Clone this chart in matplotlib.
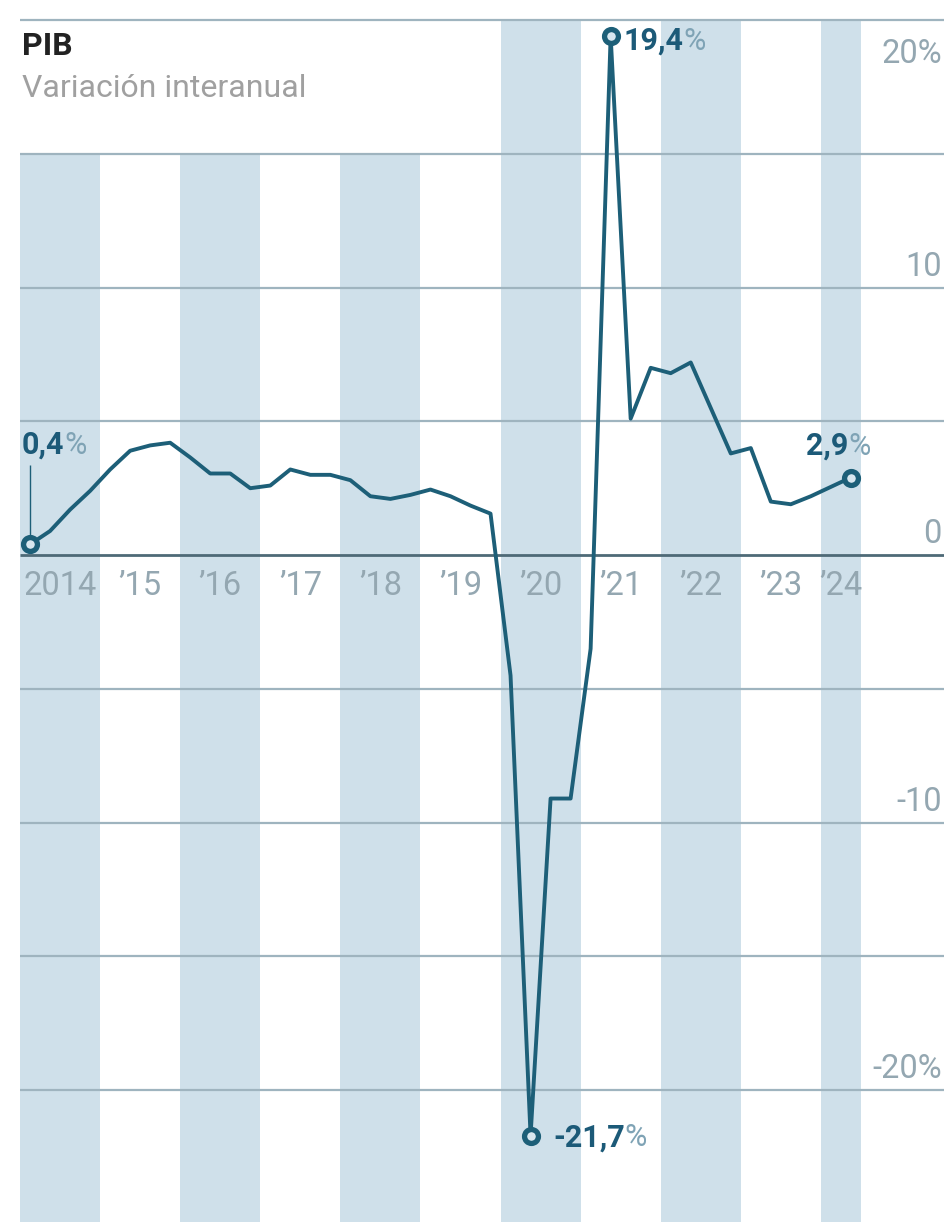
import numpy as np
import matplotlib.pyplot as plt

plt.rcParams['font.family'] = ['Roboto', 'DejaVu Sans']

# --- DATA: PIB, variación interanual (%), trimestral 2014T1 - 2024T2 ---
years = [2014, 2015, 2016, 2017, 2018, 2019, 2020, 2021, 2022, 2023, 2024]
year_labels = ["2014", "’15", "’16", "’17", "’18", "’19", "’20", "’21", "’22", "’23", "’24"]
gdp = [0.4, 0.9, 1.7, 2.4,
       3.2, 3.9, 4.1, 4.2,
       3.65, 3.05, 3.05, 2.5,
       2.6, 3.2, 3.0, 3.0,
       2.8, 2.2, 2.1, 2.25,
       2.45, 2.2, 1.85, 1.55,
       -4.5, -21.7, -9.1, -9.1,
       -3.5, 19.4, 5.1, 7.0,
       6.8, 7.2, 5.5, 3.8,
       4.0, 2.0, 1.9, 2.2,
       2.55, 2.9]
y_ticks = [20, 10, 0, -10, -20]
y_tick_labels = ["20%", "10", "0", "-10", "-20%"]
highlights = {0: "0,4", 25: "-21,7", 29: "19,4", 41: "2,9"}

# --- COLOURS ---
band_c = "#cfe0ea"
grid_c = "#9fb4bf"
zero_c = "#4e6a77"
line_c = "#1d5f78"
num_c = "#1c5a78"
pct_c = "#7fa3b5"
tick_c = "#94a7b1"

x = years[0] + np.arange(len(gdp)) / 4 + 0.125
x_end = years[0] + len(gdp) / 4

fig = plt.figure(figsize=(9.45, 12.22), dpi=100)
ax = fig.add_axes([0, 0, 1, 1])
ax.set_xlim(2013.75, 2025.55)
ax.set_ylim(-24.93, 20.75)
ax.axis("off")

# alternating year bands
for yr in years[::2]:
    ax.fill_between([yr, min(yr + 1, x_end)], -30, 20, color=band_c, lw=0, zorder=0)
# white box behind the title
ax.fill_between([years[0], 2020], 15, 20, color="white", lw=0, zorder=0.5)

# horizontal grid
ax.hlines([20, 15, 10, 5, -5, -10, -15, -20], years[0], 2026, color=grid_c, lw=1.6, zorder=1)
ax.hlines(0, years[0], 2026, color=zero_c, lw=2, zorder=1.5)

# year labels centred in the visible band
for yr, lab in zip(years, year_labels):
    cx = (yr + min(yr + 1, x_end)) / 2
    ax.text(cx, -1.15, lab, ha="center", va="center", fontsize=23.5,
            color=tick_c, zorder=5)

# right-hand value labels
for v, lab in zip(y_ticks, y_tick_labels):
    yy = 18.4 if v == 20 else v + 0.45
    ax.text(2025.51, yy, lab, ha="right", va="baseline", fontsize=23.5,
            color=tick_c, zorder=5)

# series
ax.plot(x, gdp, color=line_c, lw=2.8, zorder=3)
idx = list(highlights.keys())
ax.plot(x[idx], np.array(gdp)[idx], "o", ms=10, mew=3.8, mec=line_c,
        mfc="#d8e7ef", zorder=4)
ax.vlines(x[0], gdp[0], 3.36, color=line_c, lw=1, zorder=2)

# value labels: bold number + light %
label_pos = {0: (2014.025, 3.78), 25: (2020.654, -22.1),
             29: (2021.53, 18.88), 41: (2023.81, 3.76)}
for i, txt in highlights.items():
    lx, ly = label_pos[i]
    t = ax.text(lx, ly, txt, ha="left", va="baseline", fontsize=22,
                fontweight="bold", color=num_c, zorder=5)
    ax.annotate("%", xy=(1, 0), xycoords=t, ha="left", va="bottom",
                fontsize=22, color=pct_c, zorder=5)

# title
ax.text(2014.025, 18.69, "PIB", ha="left", va="baseline", fontsize=23,
        fontweight="bold", color="#222222", zorder=5)
ax.text(2014.025, 17.12, "Variación interanual", ha="left", va="baseline",
        fontsize=23, color="#a0a0a0", zorder=5)

fig.savefig("out.png", dpi=100)
